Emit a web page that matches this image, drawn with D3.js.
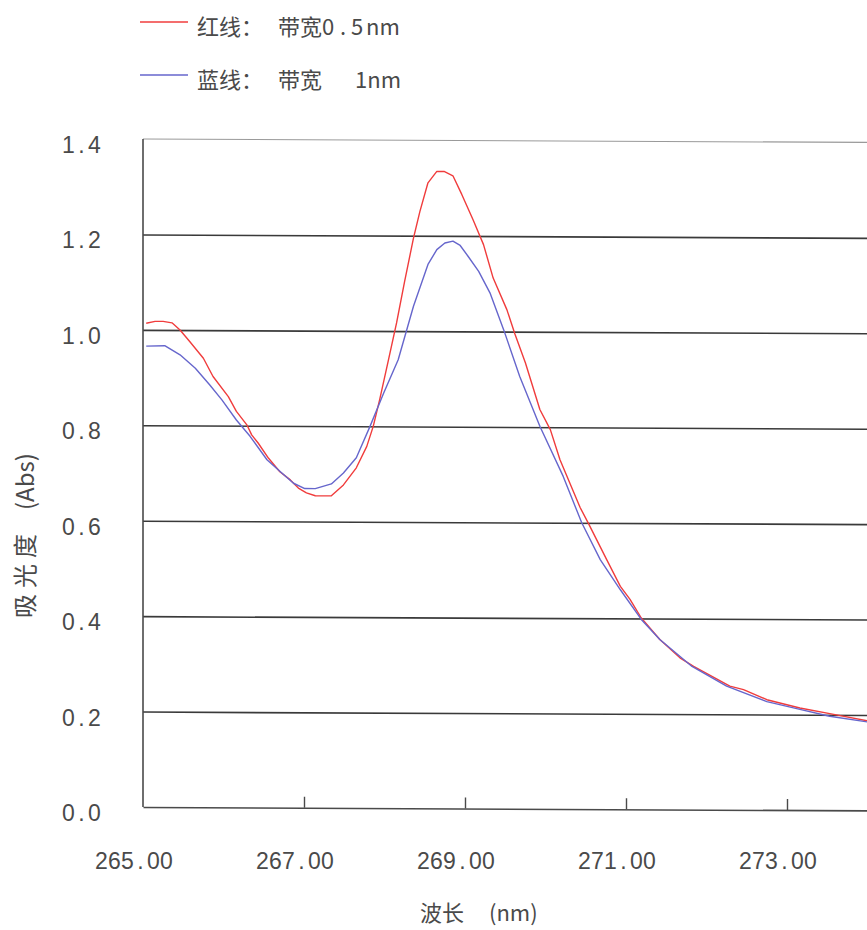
<!DOCTYPE html>
<html>
<head>
<meta charset="utf-8">
<script src="https://cdn.jsdelivr.net/npm/d3@7"></script>
<style>
  html, body { margin: 0; padding: 0; background: #fff; overflow: hidden; }
  svg { display: block; }
</style>
</head>
<body>
<svg id="chart" width="867" height="930"></svg>
<script>
// Absorbance spectra, 0.5 nm slit width (red) and 1 nm slit width (blue)
const redWavelength = [265.04, 265.15, 265.25, 265.36, 265.46, 265.58, 265.75, 265.87, 266.06, 266.16,
  266.29, 266.35, 266.43, 266.56, 266.70, 266.83, 266.93, 267.03, 267.14, 267.34,
  267.49, 267.65, 267.78, 267.86, 267.94, 268.05, 268.15, 268.25, 268.36, 268.44,
  268.54, 268.65, 268.74, 268.85, 268.96, 269.10, 269.23, 269.35, 269.52, 269.62,
  269.75, 269.93, 270.06, 270.18, 270.43, 270.53, 270.76, 270.93, 271.05, 271.19,
  271.42, 271.67, 271.84, 272.29, 272.46, 272.75, 273.16, 273.58, 274.02];
const redAbs = [1.014, 1.018, 1.018, 1.015, 1.000, 0.976, 0.941, 0.903, 0.861, 0.830,
  0.802, 0.781, 0.764, 0.732, 0.704, 0.687, 0.670, 0.660, 0.654, 0.654,
  0.677, 0.713, 0.758, 0.800, 0.856, 0.940, 1.017, 1.104, 1.195, 1.251,
  1.311, 1.335, 1.335, 1.326, 1.287, 1.234, 1.182, 1.112, 1.046, 0.995,
  0.935, 0.837, 0.795, 0.732, 0.632, 0.600, 0.523, 0.467, 0.440, 0.401,
  0.356, 0.318, 0.300, 0.259, 0.252, 0.231, 0.214, 0.201, 0.187];

const blueWavelength = [265.04, 265.27, 265.46, 265.65, 265.83, 265.98, 266.16, 266.33, 266.54, 266.70,
  266.87, 267.01, 267.14, 267.34, 267.49, 267.65, 267.82, 267.99, 268.17, 268.36,
  268.54, 268.65, 268.75, 268.85, 268.94, 269.04, 269.17, 269.31, 269.48, 269.68,
  269.93, 270.22, 270.45, 270.68, 270.93, 271.19, 271.42, 271.82, 272.25, 272.75,
  273.16, 273.53, 274.02];
const blueAbs = [0.966, 0.967, 0.948, 0.920, 0.885, 0.854, 0.812, 0.778, 0.729, 0.705,
  0.680, 0.669, 0.669, 0.679, 0.702, 0.734, 0.800, 0.870, 0.940, 1.052,
  1.140, 1.171, 1.185, 1.189, 1.180, 1.157, 1.126, 1.081, 1.004, 0.906,
  0.802, 0.697, 0.600, 0.523, 0.460, 0.398, 0.356, 0.300, 0.259, 0.227,
  0.211, 0.197, 0.185];

const xTicks = [265, 267, 269, 271, 273];
const xTickLabels = ["265.00", "267.00", "269.00", "271.00", "273.00"];
const yTicks = [0, 0.2, 0.4, 0.6, 0.8, 1.0, 1.2, 1.4];
const yTickLabels = ["0.0", "0.2", "0.4", "0.6", "0.8", "1.0", "1.2", "1.4"];

const seriesColors = ["#f03c3c", "#6666cc"];
const legendNames = ["红线：", "蓝线："];
const legendWidthWord = ["带宽", "带宽"];
const legendSlitWidths = ["0.5nm", "1nm"];

const xTitleWord = "波长", xTitleUnit = "(nm)";
const yTitleWord = "吸光度", yTitleUnit = "(Abs)";

const svg = d3.select("#chart");
svg.append("rect").attr("width", 867).attr("height", 930).attr("fill", "#fff");

const plotLeft = 143, plotTop = 139, plotBottom = 807, plotRight = 948;
const x = d3.scaleLinear().domain([265, 275]).range([plotLeft, plotRight]);
const y = d3.scaleLinear().domain([0, 1.4]).range([plotBottom, plotTop]);

const labelFont = "'Liberation Sans', Arial, sans-serif";
const cjkFont = "'Noto Sans CJK SC', 'Noto Sans', sans-serif";
const textColor = "#4a4a4a";

// plotting frame, sloping very slightly downward to the right
const plot = svg.append("g")
  .attr("transform", `translate(${plotLeft},0) skewY(0.27) translate(${-plotLeft},0)`);

// horizontal grid lines
const grid = plot.append("g")
  .attr("transform", `translate(${plotLeft},0)`)
  .call(d3.axisLeft(y).tickValues(yTicks.slice(1, -1)).tickSize(-(plotRight - plotLeft)).tickFormat(""));
grid.select(".domain").remove();
grid.selectAll(".tick line").attr("stroke", "#3a3a3a").attr("stroke-width", 1.6);

// top frame line
plot.append("line")
  .attr("x1", plotLeft).attr("x2", plotRight)
  .attr("y1", y(1.4)).attr("y2", y(1.4))
  .attr("stroke", "#9a9a9a").attr("stroke-width", 1.1);

// left axis line
plot.append("line")
  .attr("x1", plotLeft).attr("x2", plotLeft)
  .attr("y1", y(1.4)).attr("y2", y(0))
  .attr("stroke", "#4a4a4a").attr("stroke-width", 1.6);

// bottom axis with inward ticks
const xAxis = plot.append("g")
  .attr("transform", `translate(0,${y(0)})`)
  .call(d3.axisBottom(x).tickValues(xTicks.slice(1)).tickSize(-11).tickSizeOuter(0).tickFormat(""));
xAxis.select(".domain").attr("stroke", "#4a4a4a").attr("stroke-width", 1.6);
xAxis.selectAll(".tick line").attr("stroke", "#4a4a4a").attr("stroke-width", 1.4);

// spectra
const line = d3.line().x(d => x(d[0])).y(d => y(d[1]));
const series = [d3.zip(redWavelength, redAbs), d3.zip(blueWavelength, blueAbs)];
plot.selectAll("path.spectrum")
  .data(series)
  .join("path")
  .attr("class", "spectrum")
  .attr("d", line)
  .attr("fill", "none")
  .attr("stroke", (d, i) => seriesColors[i])
  .attr("stroke-width", 1.4)
  .attr("stroke-linejoin", "round");

// tick labels set in fixed-width character cells
const cell = 13;
function cellText(str, startX, baseY) {
  const t = svg.append("text")
    .attr("y", baseY)
    .attr("font-family", labelFont)
    .attr("font-size", 23)
    .attr("fill", textColor)
    .attr("text-anchor", "middle");
  str.split("").forEach((ch, i) => {
    t.append("tspan").attr("x", startX + cell * i + cell / 2).text(ch);
  });
}
xTicks.forEach((v, i) => {
  const s = xTickLabels[i];
  cellText(s, x(v) - 9 - (s.length * cell) / 2, 869);
});
yTicks.forEach((v, i) => {
  const s = yTickLabels[i];
  cellText(s, 101 - s.length * cell, y(v) + 14);
});

// x axis title
const xt = svg.append("text")
  .attr("y", 921)
  .attr("font-family", cjkFont).attr("font-size", 22)
  .attr("fill", textColor);
xt.append("tspan").attr("x", 420).text(xTitleWord);
xt.append("tspan").attr("x", 489).text(xTitleUnit);

// y axis title, reading bottom to top
const yt = svg.append("text")
  .attr("transform", "translate(34,618) rotate(-90)")
  .attr("font-family", cjkFont).attr("font-size", 24)
  .attr("fill", textColor);
yt.append("tspan").attr("x", 0).attr("letter-spacing", 6).text(yTitleWord);
yt.append("tspan").attr("x", 108).text(yTitleUnit);

// legend
const legendY = [22, 75];
legendNames.forEach((name, i) => {
  svg.append("line")
    .attr("x1", 140).attr("x2", 188)
    .attr("y1", legendY[i]).attr("y2", legendY[i])
    .attr("stroke", seriesColors[i]).attr("stroke-width", 1.3);
  const t = svg.append("text")
    .attr("y", legendY[i] + 13)
    .attr("font-family", cjkFont).attr("font-size", 22)
    .attr("fill", textColor);
  t.append("tspan").attr("x", 197).text(name);
  t.append("tspan").attr("x", 278).text(legendWidthWord[i]);
  const w = legendSlitWidths[i];
  const value = w.replace("nm", "");
  if (value.length > 1) {
    // "0.5" with the spread-out decimal point
    t.append("tspan").attr("x", 322).text(value[0]);
    t.append("tspan").attr("x", 340).text(value[1]);
    t.append("tspan").attr("x", 351).text(value[2]);
    t.append("tspan").attr("x", 366).text("nm");
  } else {
    t.append("tspan").attr("x", 355).text(w);
  }
});
</script>
</body>
</html>
